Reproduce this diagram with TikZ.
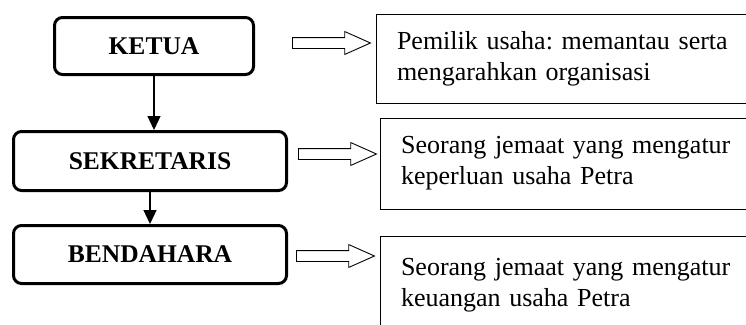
\documentclass[tikz,border=0pt]{standalone}
\usepackage{fontspec}
\setmainfont{Liberation Serif}
\frenchspacing
\usetikzlibrary{positioning}
\usetikzlibrary{shapes.arrows}
\usetikzlibrary{arrows.meta}
\tikzstyle{jabatan} = [draw, rectangle, rounded corners=8pt, line width=3pt, font=\fontsize{25.5}{30}\selectfont\bfseries]
\tikzstyle{tugas} = [draw, rectangle, line width=1pt, anchor=north west, align=left, text width=378pt, inner xsep=21pt, minimum width=420pt, font=\fontsize{26}{31}\selectfont]
\tikzstyle{panah} = [draw, single arrow, line width=0.9pt, anchor=tail, inner sep=5pt, minimum width=0pt, minimum height=78pt, single arrow head extend=6pt, single arrow tip angle=48]
\tikzstyle{garis} = [-{Triangle[length=14pt,width=13pt]}, line width=1.3pt]

\begin{document}
\begin{tikzpicture}[x=1pt,y=-1pt]
    \useasboundingbox (0,0) rectangle (746,324);
    \clip (0,0) rectangle (746,324);
    \node [jabatan, minimum width=199pt, minimum height=57pt] (ketua) at (154,46) {KETUA};
    \node [jabatan, minimum width=273pt, minimum height=59pt] (sekretaris) at (150,161) {SEKRETARIS};
    \node [jabatan, minimum width=273pt, minimum height=58pt] (bendahara) at (150,254.5) {BENDAHARA};

    \node [tugas, minimum height=89pt] (tugas1) at (375.5,13.5) {Pemilik usaha: memantau serta\\mengarahkan organisasi};
    \node [tugas, minimum height=91pt, line width=1.3pt] (tugas2) at (379.5,117.5) {Seorang jemaat yang mengatur\\keperluan usaha Petra};
    \node [tugas, minimum height=98pt] (tugas3) at (379.5,235.5) {Seorang jemaat yang mengatur\\keuangan usaha Petra};

    \node [panah] (panah1) at (292,43) {}; % block arrows
    \node [panah] (panah2) at (298,154) {};
    \node [panah] (panah3) at (296,256) {};

    \draw [garis] (ketua.south) -- (ketua.south |- sekretaris.north);
    \draw [garis] (sekretaris.south) -- (bendahara.north);
\end{tikzpicture}
\end{document}
